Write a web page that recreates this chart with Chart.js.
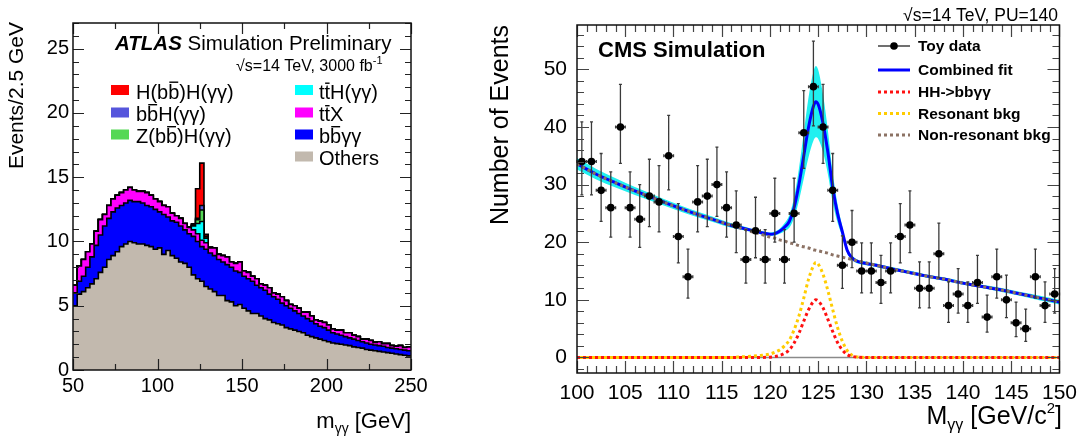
<!DOCTYPE html>
<html>
<head>
<meta charset="utf-8">
<script src="https://cdn.jsdelivr.net/npm/chart.js@4.4.1/dist/chart.umd.min.js"></script>
<style>
  body { margin: 0; background: #fff; }
  #wrap { position: relative; width: 1085px; height: 441px; background: #fff; }
  #atlas { position: absolute; left: 0; top: 0; }
  #cms { position: absolute; left: 470px; top: 0; }
</style>
</head>
<body>
<div id="wrap">
  <canvas id="atlas" width="470" height="441" style="width:470px;height:441px"></canvas>
  <canvas id="cms" width="615" height="441" style="width:615px;height:441px"></canvas>
</div>
<script>
const FAM = '"Liberation Sans", Arial, Helvetica, sans-serif';

// ---------- left panel: ATLAS stacked m_yy histogram (2.5 GeV bins, low edges + last edge)
const atlasEdges = [50, 52.5, 55, 57.5, 60, 62.5, 65, 67.5, 70, 72.5, 75, 77.5, 80, 82.5, 85, 87.5,
  90, 92.5, 95, 97.5, 100, 102.5, 105, 107.5, 110, 112.5, 115, 117.5, 120, 122.5, 125, 127.5,
  130, 132.5, 135, 137.5, 140, 142.5, 145, 147.5, 150, 152.5, 155, 157.5, 160, 162.5, 165, 167.5,
  170, 172.5, 175, 177.5, 180, 182.5, 185, 187.5, 190, 192.5, 195, 197.5, 200, 202.5, 205, 207.5,
  210, 212.5, 215, 217.5, 220, 222.5, 225, 227.5, 230, 232.5, 235, 237.5, 240, 242.5, 245, 247.5, 250];

const others = [5.0, 5.9, 6.1, 6.4, 6.7, 7.1, 7.6, 8.0, 8.6, 8.9, 9.2, 9.6, 9.8, 10.0, 9.9, 9.8,
  9.8, 9.7, 9.6, 9.4, 9.5, 9.0, 9.3, 8.9, 8.7, 8.4, 8.3, 8.0, 7.4, 7.1, 6.9, 6.5,
  6.3, 6.1, 5.8, 5.8, 5.4, 5.3, 5.0, 5.1, 4.8, 4.6, 4.4, 4.4, 4.2, 4.0, 3.9, 3.7,
  3.6, 3.5, 3.3, 3.2, 3.1, 3.0, 2.9, 2.7, 2.6, 2.5, 2.4, 2.3, 2.2, 2.1, 2.05, 2.0,
  1.95, 1.9, 1.8, 1.75, 1.7, 1.6, 1.55, 1.5, 1.45, 1.4, 1.35, 1.3, 1.25, 1.2, 1.15, 1.1];

const bbyy = [1.0, 1.0, 1.2, 1.6, 2.1, 2.6, 2.9, 3.2, 3.2, 3.4, 3.4, 3.2, 3.2, 3.2, 3.2, 3.3,
  3.2, 3.1, 3.1, 3.1, 2.8, 3.1, 2.6, 2.7, 2.8, 2.8, 2.6, 2.6, 3.0, 2.9, 2.7, 2.9,
  2.8, 2.8, 2.8, 2.6, 2.8, 2.7, 2.7, 2.5, 2.5, 2.5, 2.5, 2.2, 2.2, 2.2, 2.0, 2.0,
  1.9, 1.7, 1.7, 1.6, 1.5, 1.4, 1.3, 1.3, 1.2, 1.1, 1.0, 1.0, 0.9, 0.8, 0.75, 0.7,
  0.65, 0.6, 0.6, 0.55, 0.5, 0.5, 0.45, 0.45, 0.45, 0.45, 0.4, 0.4, 0.4, 0.4, 0.4, 0.4];

const ttX = [0.6, 1.2, 1.3, 1.2, 1.0, 1.1, 1.2, 0.9, 1.0, 1.0, 1.0, 1.0, 1.0, 1.0, 0.9, 0.8,
  0.9, 1.0, 0.9, 0.8, 0.8, 0.7, 0.8, 0.6, 0.5, 0.6, 0.5, 0.5, 0.5, 0.6, 0.5, 0.5,
  0.4, 0.6, 0.4, 0.5, 0.6, 0.4, 0.6, 0.8, 0.4, 0.5, 0.4, 0.5, 0.3, 0.4, 0.5, 0.3,
  0.4, 0.5, 0.4, 0.3, 0.4, 0.4, 0.3, 0.5, 0.4, 0.3, 0.4, 0.4, 0.4, 0.3, 0.3, 0.4,
  0.3, 0.4, 0.3, 0.3, 0.2, 0.3, 0.3, 0.2, 0.3, 0.2, 0.3, 0.2, 0.2, 0.3, 0.2, 0.3];

// Higgs samples only populate the bins around 125 GeV
const higgsBins = [117.5, 120, 122.5, 125, 127.5, 130];
const ttH = [0.05, 0.3, 0.8, 1.45, 0.35, 0.05];
const zH = [0, 0.05, 0.3, 0.9, 0.1, 0];
const bbH = [0, 0.02, 0.1, 0.35, 0.05, 0];
const hhSig = [0, 0.1, 2.3, 3.3, 0.15, 0];

const atlasXTicks = [50, 100, 150, 200, 250];
const atlasYTicks = [0, 5, 10, 15, 20, 25];

// ---------- right panel: CMS toy data and fit (1 GeV bins)
const cmsMass = [100.5, 101.5, 102.5, 103.5, 104.5, 105.5, 106.5, 107.5, 108.5, 109.5,
  110.5, 111.5, 112.5, 113.5, 114.5, 115.5, 116.5, 117.5, 118.5, 119.5,
  120.5, 121.5, 122.5, 123.5, 124.5, 125.5, 126.5, 127.5, 128.5, 129.5,
  130.5, 131.5, 132.5, 133.5, 134.5, 135.5, 136.5, 137.5, 138.5, 139.5,
  140.5, 141.5, 142.5, 143.5, 144.5, 145.5, 146.5, 147.5, 148.5, 149.5];
const cmsEvents = [34, 34, 29, 26, 40, 26, 24, 28, 27, 35,
  21, 14, 27, 28, 30, 26, 23, 17, 22, 17,
  25, 17, 25, 39, 47, 40, 29, 16, 20, 15,
  15, 13, 15, 21, 23, 12, 12, 18, 9, 11,
  9, 13, 7, 14, 10, 6, 5, 14, 9, 11];
const cmsErrLo = [5.8, 5.8, 5.4, 5.1, 6.3, 5.1, 4.9, 5.3, 5.2, 5.9,
  4.6, 3.7, 5.2, 5.3, 5.5, 5.1, 4.8, 4.1, 4.7, 4.1,
  5.0, 4.1, 5.0, 6.2, 6.8, 6.3, 5.4, 4.0, 4.4, 3.8,
  3.8, 3.6, 3.8, 4.6, 4.8, 3.4, 3.4, 4.2, 2.9, 3.3,
  2.9, 3.6, 2.6, 3.7, 3.1, 2.4, 2.2, 3.7, 2.9, 3.3];
const cmsErrHi = [6.9, 6.9, 6.4, 6.2, 7.4, 6.2, 6.0, 6.4, 6.3, 7.0,
  5.7, 4.8, 6.3, 6.4, 6.5, 6.2, 5.9, 5.2, 5.8, 5.2,
  6.1, 5.2, 6.1, 7.3, 7.9, 7.4, 6.4, 5.1, 5.5, 4.9,
  4.9, 4.7, 4.9, 5.7, 5.9, 4.6, 4.6, 5.3, 4.1, 4.4,
  4.1, 4.7, 3.8, 4.8, 4.3, 3.6, 3.4, 4.8, 4.1, 4.4];

const curveMass = [100, 102, 104, 106, 108, 110, 112, 114, 116, 117, 118, 119,
  120, 120.5, 121, 121.5, 122, 122.5, 123, 123.5, 124, 124.5, 124.75, 125, 125.5, 126,
  126.5, 127, 127.5, 128, 128.5, 129, 130, 131, 132, 134, 136, 138, 140, 142, 144, 146, 148, 150];
const combinedFit = [33.6, 31.8, 30.3, 28.9, 27.6, 26.3, 25.1, 24.0, 22.9, 22.5, 22.1, 21.7,
  21.4, 21.5, 21.9, 22.6, 23.6, 26.0, 30.0, 35.0, 40.0, 43.6, 44.4, 43.9, 40.6, 35.6,
  29.5, 25.0, 21.8, 18.6, 17.3, 16.7, 16.3, 16.0, 15.6, 14.9, 14.2, 13.6, 12.9, 12.3, 11.7, 11.0, 10.3, 9.6];
const fitBand = [1.0, 0.9, 0.8, 0.7, 0.6, 0.55, 0.5, 0.45, 0.4, 0.35, 0.3, 0.3,
  0.3, 0.35, 0.45, 0.7, 1.1, 1.8, 2.8, 4.0, 5.2, 6.0, 6.2, 6.0, 5.0, 3.8,
  2.6, 1.6, 0.9, 0.5, 0.4, 0.35, 0.3, 0.3, 0.3, 0.3, 0.3, 0.3, 0.3, 0.3, 0.35, 0.35, 0.4, 0.4];
const hhCurve = [0, 0, 0, 0, 0, 0, 0, 0, 0, 0, 0, 0,
  0.05, 0.15, 0.35, 0.7, 1.3, 2.5, 4.2, 6.3, 8.3, 9.7, 10.0, 9.8, 8.6, 6.6,
  4.5, 2.6, 1.3, 0.5, 0.2, 0.05, 0, 0, 0, 0, 0, 0, 0, 0, 0, 0, 0, 0];
const resonantBkg = [0, 0, 0, 0, 0, 0, 0, 0, 0, 0.1, 0.2, 0.35,
  0.6, 0.9, 1.3, 2.0, 3.0, 4.8, 7.2, 10.3, 13.6, 15.9, 16.5, 16.2, 14.4, 11.6,
  8.3, 5.2, 2.8, 1.2, 0.4, 0.1, 0, 0, 0, 0, 0, 0, 0, 0, 0, 0, 0, 0];
const nonResBkg = [33.6, 31.8, 30.3, 28.9, 27.6, 26.3, 25.1, 24.0, 22.9, 22.4, 21.9, 21.4,
  20.9, 20.7, 20.4, 20.2, 19.9, 19.7, 19.4, 19.2, 19.0, 18.7, 18.6, 18.5, 18.3, 18.1,
  17.8, 17.6, 17.4, 17.2, 17.0, 16.8, 16.4, 16.0, 15.6, 14.9, 14.2, 13.6, 12.9, 12.3, 11.7, 11.0, 10.3, 9.6];

const cmsXTicks = [100, 105, 110, 115, 120, 125, 130, 135, 140, 145, 150];
const cmsYTicks = [0, 10, 20, 30, 40, 50];

// ---------- helpers
function font(size, weight, style) {
  return (style || '') + ' ' + (weight || '') + ' ' + size + 'px ' + FAM;
}

// draws a run of text pieces: {t, f, dy, bar}
function drawParts(ctx, parts, x, y, align) {
  let w = 0;
  parts.forEach(p => { ctx.font = p.f; w += ctx.measureText(p.t).width; });
  let cx = align === 'right' ? x - w : x;
  parts.forEach(p => {
    ctx.font = p.f;
    const pw = ctx.measureText(p.t).width;
    ctx.fillText(p.t, cx, y + (p.dy || 0));
    if (p.bar) ctx.fillRect(cx + pw * 0.1, y - p.bar, pw * 0.8, 1.4);
    cx += pw;
  });
}

function stepData(vals) {
  return atlasEdges.map((x, i) => ({ x: x, y: vals[Math.min(i, vals.length - 1)] }));
}

function higgsFull(vals) {
  return atlasEdges.slice(0, -1).map(e => {
    const k = higgsBins.indexOf(e);
    return k < 0 ? 0 : vals[k];
  });
}

function pairs(xs, ys) {
  return xs.map((x, i) => ({ x: x, y: ys[i] }));
}

// ROOT style frame with inward ticks on all four sides
const rootFrame = {
  id: 'rootFrame',
  afterDatasetsDraw(chart, args, o) {
    const { ctx, chartArea: a, scales: { x, y } } = chart;
    ctx.save();
    ctx.strokeStyle = o.color;
    ctx.lineWidth = 1.2;
    ctx.beginPath();
    const ticksX = (v, len) => {
      const p = Math.round(x.getPixelForValue(v)) + 0.5;
      ctx.moveTo(p, a.bottom); ctx.lineTo(p, a.bottom - len);
      ctx.moveTo(p, a.top); ctx.lineTo(p, a.top + len);
    };
    const ticksY = (v, len) => {
      const p = Math.round(y.getPixelForValue(v)) + 0.5;
      ctx.moveTo(a.left, p); ctx.lineTo(a.left + len, p);
      ctx.moveTo(a.right, p); ctx.lineTo(a.right - len, p);
    };
    for (let v = o.xMinor[0]; v <= x.max + 1e-6; v += o.xMinor[1]) ticksX(v, o.minorLen);
    for (let v = o.yMinor[0]; v <= y.max + 1e-6; v += o.yMinor[1]) ticksY(v, o.minorLen);
    o.xMajor.forEach(v => ticksX(v, o.majorLen));
    o.yMajor.forEach(v => ticksY(v, o.majorLen));
    ctx.stroke();
    ctx.lineWidth = 1.5;
    ctx.strokeStyle = '#111';
    ctx.strokeRect(a.left, a.top, a.right - a.left, a.bottom - a.top);
    ctx.restore();
  }
};

function tickFont(size) {
  return { family: FAM, size: size };
}

// ---------- left chart
const atlasColors = {
  others: '#c2b9ae', bbyy: '#0000ff', ttX: '#ff00ff', ttH: '#00ffff',
  zH: '#55d855', bbH: '#5656dc', hh: '#ff0000'
};

const atlasSeries = [
  { label: 'Others', vals: others, color: atlasColors.others, fill: 'origin' },
  { label: 'bbyy', vals: bbyy, color: atlasColors.bbyy, fill: '-1' },
  { label: 'ttX', vals: ttX, color: atlasColors.ttX, fill: '-1' },
  { label: 'ttH', vals: higgsFull(ttH), color: atlasColors.ttH, fill: '-1' },
  { label: 'ZH', vals: higgsFull(zH), color: atlasColors.zH, fill: '-1' },
  { label: 'bbH', vals: higgsFull(bbH), color: atlasColors.bbH, fill: '-1' },
  { label: 'HH', vals: higgsFull(hhSig), color: atlasColors.hh, fill: '-1' }
];

const atlasText = {
  id: 'atlasText',
  afterDraw(chart) {
    const ctx = chart.ctx;
    ctx.save();
    ctx.fillStyle = '#000';
    ctx.textBaseline = 'alphabetic';
    ctx.textAlign = 'left';
    drawParts(ctx, [
      { t: 'ATLAS', f: font(20.5, 'bold', 'italic') },
      { t: ' Simulation Preliminary', f: font(20.5) }
    ], 115, 50);
    drawParts(ctx, [
      { t: '\u221As=14 TeV, 3000 fb', f: font(16) },
      { t: '-1', f: font(11), dy: -7 }
    ], 236, 71);

    // legend
    const f = font(20);
    const rows = [90, 112.5, 134.5, 156.5];
    const leftItems = [
      [atlasColors.hh, [{ t: 'H(b', f: f }, { t: 'b', f: f, bar: 17 }, { t: ')H(\u03B3\u03B3)', f: f }]],
      [atlasColors.bbH, [{ t: 'b', f: f }, { t: 'b', f: f, bar: 17 }, { t: 'H(\u03B3\u03B3)', f: f }]],
      [atlasColors.zH, [{ t: 'Z(b', f: f }, { t: 'b', f: f, bar: 17 }, { t: ')H(\u03B3\u03B3)', f: f }]]
    ];
    const rightItems = [
      [atlasColors.ttH, [{ t: 't', f: f }, { t: 't', f: f, bar: 16 }, { t: 'H(\u03B3\u03B3)', f: f }]],
      [atlasColors.ttX, [{ t: 't', f: f }, { t: 't', f: f, bar: 16 }, { t: 'X', f: f }]],
      [atlasColors.bbyy, [{ t: 'b', f: f }, { t: 'b', f: f, bar: 17 }, { t: '\u03B3\u03B3', f: f }]],
      [atlasColors.others, [{ t: 'Others', f: f }]]
    ];
    leftItems.forEach((it, i) => {
      ctx.fillStyle = it[0];
      ctx.fillRect(111, rows[i] - 5, 18, 10);
      ctx.fillStyle = '#000';
      drawParts(ctx, it[1], 136, rows[i] + 8.5);
    });
    rightItems.forEach((it, i) => {
      ctx.fillStyle = it[0];
      ctx.fillRect(295, rows[i] - 5, 18, 10);
      ctx.fillStyle = '#000';
      drawParts(ctx, it[1], 319, rows[i] + 8.5);
    });

    // axis titles
    drawParts(ctx, [
      { t: 'm', f: font(22) },
      { t: '\u03B3\u03B3', f: font(14), dy: 5 },
      { t: ' [GeV]', f: font(22) }
    ], 411, 428, 'right');
    ctx.translate(17, 22);
    ctx.rotate(-Math.PI / 2);
    ctx.textAlign = 'right';
    ctx.textBaseline = 'middle';
    ctx.font = font(21);
    ctx.fillText('Events/2.5 GeV', 0, 0);
    ctx.restore();
  }
};

new Chart(document.getElementById('atlas'), {
  type: 'line',
  data: {
    datasets: atlasSeries.map(s => ({
      label: s.label,
      data: stepData(s.vals),
      stepped: true,
      fill: s.fill,
      backgroundColor: s.color,
      borderColor: '#000',
      borderWidth: 1.6,
      pointRadius: 0
    }))
  },
  options: {
    responsive: false,
    animation: false,
    layout: { padding: { left: 0, right: 59, top: 23, bottom: 0 } },
    plugins: {
      legend: { display: false },
      tooltip: { enabled: false },
      rootFrame: {
        color: '#222', majorLen: 11, minorLen: 6,
        xMajor: atlasXTicks, xMinor: [75, 50],
        yMajor: atlasYTicks, yMinor: [0, 1]
      }
    },
    scales: {
      x: {
        type: 'linear', min: 50, max: 250,
        grid: { display: false, drawTicks: false },
        border: { display: false },
        afterFit: s => { s.height = 71; },
        afterBuildTicks: s => { s.ticks = atlasXTicks.map(v => ({ value: v })); },
        ticks: { font: tickFont(20), color: '#000', padding: 4, maxRotation: 0, autoSkip: false }
      },
      y: {
        stacked: true, min: 0, max: 27,
        grid: { display: false, drawTicks: false },
        border: { display: false },
        afterFit: s => { s.width = 73; },
        afterBuildTicks: s => { s.ticks = atlasYTicks.map(v => ({ value: v })); },
        ticks: { font: tickFont(20), color: '#000', padding: 4, autoSkip: false }
      }
    }
  },
  plugins: [rootFrame, atlasText]
});

// ---------- right chart
const cmsColors = {
  band: '#20f0f0', fit: '#0000ff', hh: '#ff1010', res: '#ffcc00', nonres: '#8c7264', data: '#000'
};
const TOY = 0; // dataset index of toy data

const cmsErrors = {
  id: 'cmsErrors',
  beforeDatasetsDraw(chart) {
    const { ctx, chartArea: a, scales: { y } } = chart;
    ctx.save();
    ctx.strokeStyle = '#8a8a8a';
    ctx.lineWidth = 1.5;
    const p = Math.round(y.getPixelForValue(0)) + 0.5;
    ctx.beginPath(); ctx.moveTo(a.left, p); ctx.lineTo(a.right, p); ctx.stroke();
    ctx.restore();
  },
  beforeDatasetDraw(chart, args) {
    if (args.index !== TOY) return;
    const { ctx, scales: { x, y } } = chart;
    ctx.save();
    ctx.strokeStyle = '#3a3a3a';
    ctx.lineWidth = 1.3;
    ctx.beginPath();
    cmsMass.forEach((m, i) => {
      const px = x.getPixelForValue(m);
      const py = y.getPixelForValue(cmsEvents[i]);
      const lo = y.getPixelForValue(cmsEvents[i] - cmsErrLo[i]);
      const hi = y.getPixelForValue(cmsEvents[i] + cmsErrHi[i]);
      const xl = x.getPixelForValue(m - 0.5);
      const xr = x.getPixelForValue(m + 0.5);
      ctx.moveTo(px, lo); ctx.lineTo(px, hi);
      ctx.moveTo(px - 1.5, lo); ctx.lineTo(px + 1.5, lo);
      ctx.moveTo(px - 1.5, hi); ctx.lineTo(px + 1.5, hi);
      ctx.moveTo(xl, py); ctx.lineTo(xr, py);
      ctx.moveTo(xl, py - 1.5); ctx.lineTo(xl, py + 1.5);
      ctx.moveTo(xr, py - 1.5); ctx.lineTo(xr, py + 1.5);
    });
    ctx.stroke();
    ctx.restore();
  }
};

const cmsText = {
  id: 'cmsText',
  afterDraw(chart) {
    const ctx = chart.ctx;
    ctx.save();
    ctx.fillStyle = '#000';
    ctx.textAlign = 'left';
    ctx.textBaseline = 'alphabetic';
    drawParts(ctx, [{ t: '\u221As=14 TeV, PU=140', f: font(17.5) }], 588, 21, 'right');
    drawParts(ctx, [{ t: 'CMS Simulation', f: font(22, 'bold') }], 128, 57);

    // legend
    const rows = [46, 70, 92, 113.5, 135];
    const labels = ['Toy data', 'Combined fit', 'HH->bb\u03B3\u03B3', 'Resonant bkg', 'Non-resonant bkg'];
    const x0 = 408, x1 = 440;
    // toy data marker
    ctx.strokeStyle = '#222'; ctx.lineWidth = 1.3;
    ctx.beginPath(); ctx.moveTo(x0, rows[0]); ctx.lineTo(x1, rows[0]); ctx.stroke();
    ctx.beginPath(); ctx.arc((x0 + x1) / 2, rows[0], 3.8, 0, Math.PI * 2); ctx.fill();
    ctx.lineWidth = 3;
    ctx.strokeStyle = cmsColors.fit;
    ctx.beginPath(); ctx.moveTo(x0, rows[1]); ctx.lineTo(x1, rows[1]); ctx.stroke();
    [[cmsColors.hh, rows[2]], [cmsColors.res, rows[3]], [cmsColors.nonres, rows[4]]].forEach(r => {
      ctx.strokeStyle = r[0];
      ctx.setLineDash([3, 3]);
      ctx.beginPath(); ctx.moveTo(x0, r[1]); ctx.lineTo(x1, r[1]); ctx.stroke();
    });
    ctx.setLineDash([]);
    ctx.textBaseline = 'middle';
    ctx.font = font(15.5, 'bold');
    labels.forEach((l, i) => ctx.fillText(l, 448, rows[i] + 1));

    // axis titles
    ctx.textBaseline = 'alphabetic';
    drawParts(ctx, [
      { t: 'M', f: font(25) },
      { t: '\u03B3\u03B3', f: font(16), dy: 6 },
      { t: ' [GeV/c', f: font(25) },
      { t: '2', f: font(15), dy: -11 },
      { t: ']', f: font(25) }
    ], 592, 424, 'right');
    ctx.translate(31, 25);
    ctx.rotate(-Math.PI / 2);
    ctx.textAlign = 'right';
    ctx.textBaseline = 'middle';
    ctx.font = font(25);
    ctx.fillText('Number of Events', 0, 0);
    ctx.restore();
  }
};

const curveStyle = { pointRadius: 0, cubicInterpolationMode: 'monotone', fill: false };

new Chart(document.getElementById('cms'), {
  type: 'line',
  data: {
    datasets: [
      { label: 'Toy data', data: pairs(cmsMass, cmsEvents), showLine: false,
        pointRadius: 3.8, pointBackgroundColor: cmsColors.data, pointBorderWidth: 0, order: 1 },
      Object.assign({ label: 'HH->bbyy', data: pairs(curveMass, hhCurve), borderColor: cmsColors.hh,
        borderWidth: 3, borderDash: [3, 3], order: 2 }, curveStyle),
      Object.assign({ label: 'Resonant bkg', data: pairs(curveMass, resonantBkg), borderColor: cmsColors.res,
        borderWidth: 3, borderDash: [3, 3], borderDashOffset: 3, order: 3 }, curveStyle),
      Object.assign({ label: 'Non-resonant bkg', data: pairs(curveMass, nonResBkg), borderColor: cmsColors.nonres,
        borderWidth: 3, borderDash: [3, 3], order: 4 }, curveStyle),
      Object.assign({ label: 'Combined fit', data: pairs(curveMass, combinedFit), borderColor: cmsColors.fit,
        borderWidth: 3, order: 5 }, curveStyle),
      Object.assign({}, curveStyle, { label: 'band hi', data: curveMass.map((x, i) => ({ x: x, y: combinedFit[i] + fitBand[i] })),
        borderWidth: 0, backgroundColor: cmsColors.band, fill: '+1', order: 6 }),
      Object.assign({ label: 'band lo', data: curveMass.map((x, i) => ({ x: x, y: combinedFit[i] - fitBand[i] })),
        borderWidth: 0, order: 7 }, curveStyle)
    ]
  },
  options: {
    responsive: false,
    animation: false,
    layout: { padding: { left: 0, right: 24, top: 25, bottom: 0 } },
    plugins: {
      legend: { display: false },
      tooltip: { enabled: false },
      rootFrame: {
        color: '#444', majorLen: 12, minorLen: 7,
        xMajor: cmsXTicks, xMinor: [100, 1],
        yMajor: cmsYTicks, yMinor: [-2, 2]
      }
    },
    scales: {
      x: {
        type: 'linear', min: 100, max: 150,
        grid: { display: false, drawTicks: false },
        border: { display: false },
        afterFit: s => { s.height = 68; },
        afterBuildTicks: s => { s.ticks = cmsXTicks.map(v => ({ value: v })); },
        ticks: { font: tickFont(21), color: '#000', padding: 8, maxRotation: 0, autoSkip: false }
      },
      y: {
        min: -2.7, max: 57.7,
        grid: { display: false, drawTicks: false },
        border: { display: false },
        afterFit: s => { s.width = 107; },
        afterBuildTicks: s => { s.ticks = cmsYTicks.map(v => ({ value: v })); },
        ticks: { font: tickFont(21), color: '#000', padding: 10, autoSkip: false }
      }
    }
  },
  plugins: [rootFrame, cmsErrors, cmsText]
});
</script>
</body>
</html>
